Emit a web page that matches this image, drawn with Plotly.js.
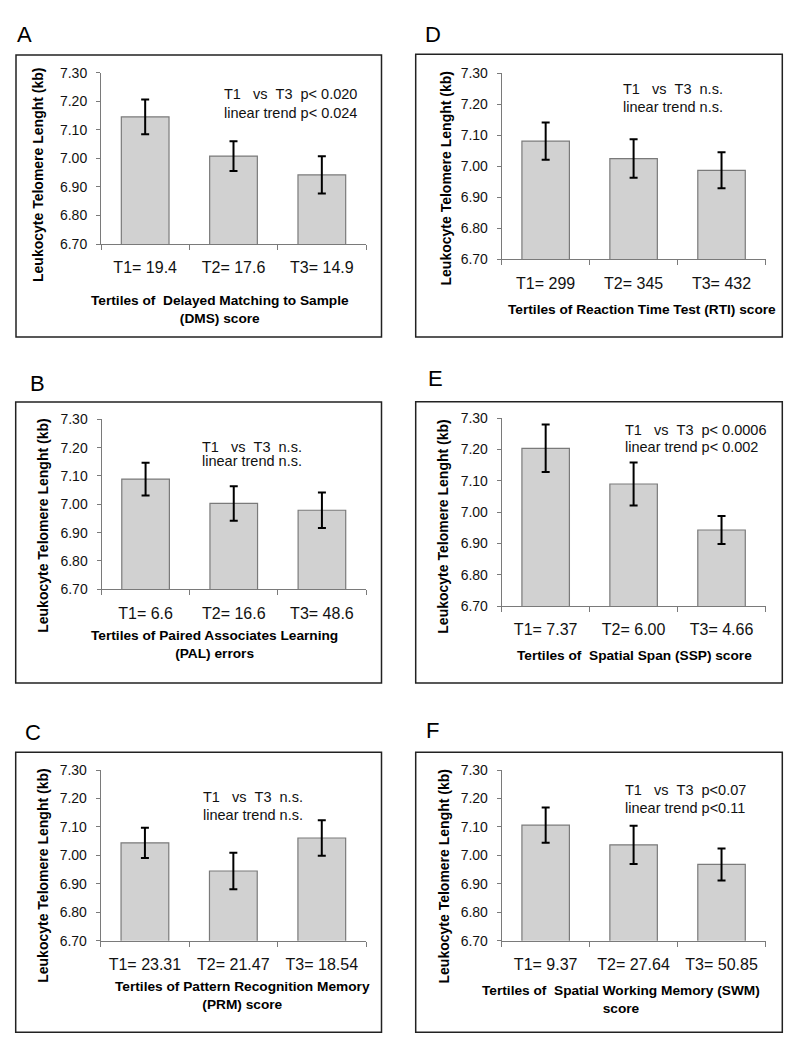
<!DOCTYPE html>
<html><head><meta charset="utf-8">
<script src="https://cdn.plot.ly/plotly-3.0.1.min.js"></script>
<style>html,body{margin:0;padding:0;background:#fff;}#chart{width:796px;height:1050px;}</style>
</head><body><div id="chart"></div>
<script>
// ---------- DATA ----------
const letters = ['A', 'B', 'C', 'D', 'E', 'F'];

const ticksA = ['T1= 19.4', 'T2= 17.6', 'T3= 14.9'];
const meansA = [7.145, 7.008, 6.942];
const errA   = [0.061, 0.052, 0.065];
const xTitleA = 'Tertiles of \u00A0Delayed Matching to Sample<br>(DMS) score';
const statsA = ['T1 \u00A0 vs \u00A0T3 \u00A0p< 0.020', 'linear trend p< 0.024'];

const ticksB = ['T1= 6.6', 'T2= 16.6', 'T3= 48.6'];
const meansB = [7.089, 7.003, 6.979];
const errB   = [0.058, 0.061, 0.063];
const xTitleB = 'Tertiles of Paired Associates Learning<br>(PAL) errors';
const statsB = ['T1 \u00A0 vs \u00A0T3 \u00A0n.s.', 'linear trend n.s.'];

const ticksC = ['T1= 23.31', 'T2= 21.47', 'T3= 18.54'];
const meansC = [7.044, 6.945, 7.061];
const errC   = [0.053, 0.064, 0.062];
const xTitleC = 'Tertiles of Pattern Recognition Memory<br>(PRM) score';
const statsC = ['T1 \u00A0 vs \u00A0T3 \u00A0n.s.', 'linear trend n.s.'];

const ticksD = ['T1= 299', 'T2= 345', 'T3= 432'];
const meansD = [7.081, 7.025, 6.987];
const errD   = [0.060, 0.062, 0.058];
const xTitleD = 'Tertiles of Reaction Time Test (RTI) score';
const statsD = ['T1 \u00A0 vs \u00A0T3 \u00A0n.s.', 'linear trend n.s.'];

const ticksE = ['T1= 7.37', 'T2= 6.00', 'T3= 4.66'];
const meansE = [7.204, 7.090, 6.943];
const errE   = [0.076, 0.069, 0.045];
const xTitleE = 'Tertiles of \u00A0Spatial Span (SSP) score';
const statsE = ['T1 \u00A0 vs \u00A0T3 \u00A0p< 0.0006', 'linear trend p< 0.002'];

const ticksF = ['T1= 9.37', 'T2= 27.64', 'T3= 50.85'];
const meansF = [7.106, 7.037, 6.968];
const errF   = [0.062, 0.067, 0.056];
const xTitleF = 'Tertiles of \u00A0Spatial Working Memory (SWM)<br>score';
const statsF = ['T1 \u00A0 vs \u00A0T3 \u00A0p<0.07', 'linear trend p<0.11'];

const yTitle = 'Leukocyte Telomere Lenght (kb)';
const yTickVals = [6.70, 6.80, 6.90, 7.00, 7.10, 7.20, 7.30];

const panels = [
  {ticks: ticksA, means: meansA, err: errA, xt: xTitleA, stats: statsA},
  {ticks: ticksB, means: meansB, err: errB, xt: xTitleB, stats: statsB},
  {ticks: ticksC, means: meansC, err: errC, xt: xTitleC, stats: statsC},
  {ticks: ticksD, means: meansD, err: errD, xt: xTitleD, stats: statsD},
  {ticks: ticksE, means: meansE, err: errE, xt: xTitleE, stats: statsE},
  {ticks: ticksF, means: meansF, err: errF, xt: xTitleF, stats: statsF}
];

// ---------- LAYOUT GEOMETRY (pixels) ----------
const W = 796, H = 1050;
const geom = [
  {box:[16,55,381.5,337],   plot:[101,72.7,366,244],   letter:[15,34.7],  yt:[38,175],   xtp:[220,309],   sAnchor:'left',  s1:[222,94],   s2:[222,112.7]},
  {box:[15.7,402,381.5,683],plot:[101.5,419.3,366,589.3], letter:[28,383.7], yt:[43,525.8], xtp:[214,644.7], sAnchor:'right', s1:[304,446.7], s2:[304,460.5]},
  {box:[15.7,752.3,381.5,1032.3],plot:[100.7,770,366,940.7], letter:[23,732], yt:[43,875.8], xtp:[242,995], sAnchor:'right', s1:[305,796.7], s2:[305,815]},
  {box:[415.7,54.3,782.3,337],plot:[501.7,73.3,765.5,259.3], letter:[423,34.2], yt:[445,178.5], xtp:[641.7,309.3], sAnchor:'right', s1:[725,89.3], s2:[725,107.3]},
  {box:[415.7,401.7,782.3,683],plot:[501.7,418.3,765.5,606], letter:[426,378], yt:[443,526.7], xtp:[634,655], sAnchor:'left', s1:[622.7,430], s2:[622.7,447.3]},
  {box:[415.7,752.3,782.3,1032.3],plot:[501.7,770,765.5,940.7], letter:[424,730.5], yt:[443,876.5], xtp:[621,999.5], sAnchor:'left', s1:[622.7,790], s2:[622.7,808.3]}
];

const px = x => x / W;
const py = y => 1 - y / H;
const FONT = 'Liberation Sans, Arial, Helvetica, sans-serif';

const data = [];
const layout = {
  width: W, height: H,
  margin: {l: 0, r: 0, t: 0, b: 0},
  paper_bgcolor: '#ffffff', plot_bgcolor: '#ffffff',
  showlegend: false,
  bargap: 0.46,
  font: {family: FONT, color: '#111'},
  shapes: [], annotations: []
};

panels.forEach((p, i) => {
  const g = geom[i];
  const sfx = i === 0 ? '' : String(i + 1);
  data.push({
    type: 'bar', x: p.ticks, y: p.means,
    xaxis: 'x' + sfx, yaxis: 'y' + sfx,
    marker: {color: '#d1d1d1', line: {color: '#7a7a7a', width: 1.2}},
    error_y: {type: 'data', array: p.err, visible: true, color: '#000', thickness: 2, width: 4},
    hoverinfo: 'skip'
  });
  layout['xaxis' + sfx] = {
    domain: [px(g.plot[0]), px(g.plot[2])],
    anchor: 'y' + sfx,
    type: 'category',
    showline: true, linecolor: '#7a7a7a', linewidth: 1,
    ticks: 'outside', tickson: 'boundaries', ticklen: 5, tickcolor: '#7a7a7a',
    showgrid: false, zeroline: false, fixedrange: true,
    tickfont: {family: FONT, size: 16, color: '#111'},
    ticklabelstandoff: 9
  };
  layout['yaxis' + sfx] = {
    domain: [py(g.plot[3]), py(g.plot[1])],
    anchor: 'x' + sfx,
    range: [6.70, 7.30],
    tickvals: yTickVals, tickformat: '.2f',
    showline: true, linecolor: '#7a7a7a', linewidth: 1,
    ticks: 'outside', ticklen: 4, tickcolor: '#7a7a7a',
    showgrid: false, zeroline: false, fixedrange: true,
    tickfont: {family: FONT, size: 14, color: '#111'},
    ticklabelstandoff: 6
  };
  layout.shapes.push({
    type: 'rect', xref: 'paper', yref: 'paper',
    x0: px(g.box[0]), x1: px(g.box[2]), y0: py(g.box[3]), y1: py(g.box[1]),
    line: {color: '#222', width: 1.5}, fillcolor: 'rgba(0,0,0,0)', layer: 'below'
  });
  layout.annotations.push(
    {xref: 'paper', yref: 'paper', x: px(g.letter[0]), y: py(g.letter[1]), xanchor: 'left', yanchor: 'middle',
     text: letters[i], showarrow: false, font: {family: FONT, size: 22, color: '#000'}},
    {xref: 'paper', yref: 'paper', x: px(g.yt[0]), y: py(g.yt[1]), xanchor: 'center', yanchor: 'middle',
     text: '<b>' + yTitle + '</b>', textangle: -90, showarrow: false, font: {family: FONT, size: 14, color: '#000'}},
    {xref: 'paper', yref: 'paper', x: px(g.xtp[0]), y: py(g.xtp[1]), xanchor: 'center', yanchor: 'middle',
     text: '<b>' + p.xt + '</b>', showarrow: false, align: 'center', font: {family: FONT, size: 13.7, color: '#000'}},
    {xref: 'paper', yref: 'paper', x: px(g.s1[0]), y: py(g.s1[1]), xanchor: g.sAnchor, yanchor: 'middle',
     text: p.stats[0], showarrow: false, font: {family: FONT, size: 14.5, color: '#111'}},
    {xref: 'paper', yref: 'paper', x: px(g.s2[0]), y: py(g.s2[1]), xanchor: g.sAnchor, yanchor: 'middle',
     text: p.stats[1], showarrow: false, font: {family: FONT, size: 14.5, color: '#111'}}
  );
});

Plotly.newPlot('chart', data, layout, {staticPlot: true, displayModeBar: false});
</script>
</body></html>
